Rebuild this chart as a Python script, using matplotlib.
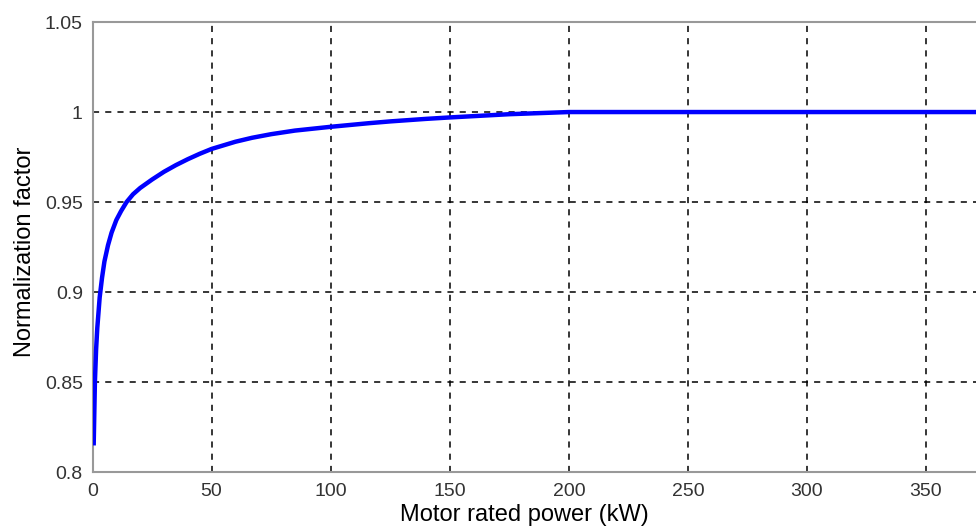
import matplotlib.pyplot as plt

plt.rcParams['font.family'] = ['Liberation Sans', 'DejaVu Sans']

# motor rated power (kW) and normalization factor
power = [0.5, 1, 1.5, 2, 3, 4, 5, 6.5, 8, 10, 12, 14.3, 17, 20, 25, 30, 35,
         40, 45, 50, 60, 67, 75, 85, 100, 116, 125, 140, 150, 175, 200,
         250, 300, 350, 400]
factor = [0.816, 0.85, 0.868, 0.88, 0.897, 0.908, 0.917, 0.926, 0.933,
          0.94, 0.945, 0.95, 0.9543, 0.9578, 0.9625, 0.9668, 0.9705, 0.9738,
          0.9768, 0.9795, 0.9835, 0.9857, 0.9877, 0.9897, 0.9918, 0.9938,
          0.9948, 0.9962, 0.997, 0.9988, 1.0, 1.0, 1.0, 1.0, 1.0]

xticks = [0, 50, 100, 150, 200, 250, 300, 350]
yticks = [0.8, 0.85, 0.9, 0.95, 1.0, 1.05]
ylabels = ['0.8', '0.85', '0.9', '0.95', '1', '1.05']

fig = plt.figure(figsize=(9.76, 5.30), dpi=100)
ax = fig.add_axes([0.0948, 0.1094, 0.976, 0.849])

ax.plot(power, factor, color='#0000ff', linewidth=3.2, zorder=3)

ax.set_xlim(0, 400)
ax.set_ylim(0.8, 1.05)
ax.set_xticks(xticks)
ax.set_xticklabels([str(t) for t in xticks])
ax.set_yticks(yticks)
ax.set_yticklabels(ylabels)
ax.tick_params(labelsize=14, colors='#333333', length=0)
ax.tick_params(axis='y', pad=7)
ax.tick_params(axis='x', pad=8)

ax.grid(True, color='black', linestyle=(0, (4, 4)), linewidth=1.1)
for s in ax.spines.values():
    s.set_color('#999999')
    s.set_linewidth(1.5)

ax.set_xlabel('Motor rated power (kW)', fontsize=17, labelpad=-2)
ax.xaxis.set_label_coords(0.453, -0.07)
ax.set_ylabel('Normalization factor', fontsize=17)
ax.yaxis.set_label_coords(-0.059, 0.49)

fig.savefig('out.png', dpi=100)
